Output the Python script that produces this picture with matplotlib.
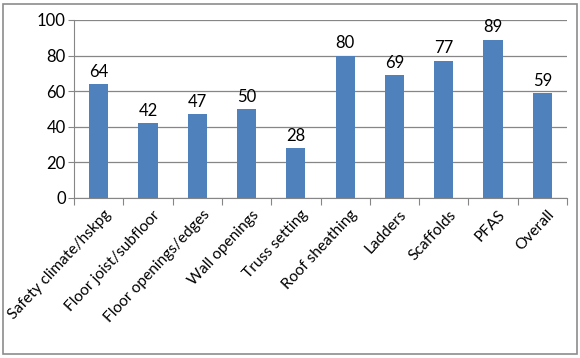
import matplotlib.pyplot as plt
import matplotlib.patches as mpatches

# chart data
categories = ["Safety climate/hskpg", "Floor joist/subfloor", "Floor openings/edges",
              "Wall openings", "Truss setting", "Roof sheathing", "Ladders",
              "Scaffolds", "PFAS", "Overall"]
scores = [64, 42, 47, 50, 28, 80, 69, 77, 89, 59]
yticks = [0, 20, 40, 60, 80, 100]

plt.rcParams['font.family'] = ['Lato', 'DejaVu Sans']

fig = plt.figure(figsize=(5.8, 3.58), dpi=100)
ax = fig.add_axes([74 / 580, 1 - 198 / 358, (567 - 74) / 580, 178 / 358])

x = list(range(len(categories)))
ax.bar(x, scores, width=0.39, color="#4F81BD", zorder=3)

for i, v in enumerate(scores):
    ax.text(i, v + 2.5, str(v), ha="center", va="bottom", fontsize=12, color="black")

ax.set_xlim(-0.5, len(categories) - 0.5)
ax.set_ylim(0, 100)
ax.set_yticks(yticks)
ax.tick_params(axis="y", labelsize=12, length=4, color="#868686", pad=2)
ax.yaxis.grid(True, color="#868686", linewidth=0.9, zorder=0)

# category boundary ticks below axis
ax.set_xticks([i - 0.5 for i in range(len(categories) + 1)])
ax.set_xticklabels([])
ax.tick_params(axis="x", length=5, color="#868686", direction="out")
for i, c in enumerate(categories):
    ax.text(i + 0.1, -5.5, c, rotation=47, ha="right", va="top",
            rotation_mode="anchor", fontsize=11.2)

for s in ["top", "right"]:
    ax.spines[s].set_visible(False)
ax.spines["left"].set_color("#868686")
ax.spines["bottom"].set_color("#868686")

# outer border of chart
fig.patches.append(mpatches.Rectangle((3 / 580, 4 / 358), 574 / 580, 350 / 358,
                                      transform=fig.transFigure, fill=False,
                                      edgecolor="#8c8c8c", linewidth=1.2))

plt.savefig("out.png")
